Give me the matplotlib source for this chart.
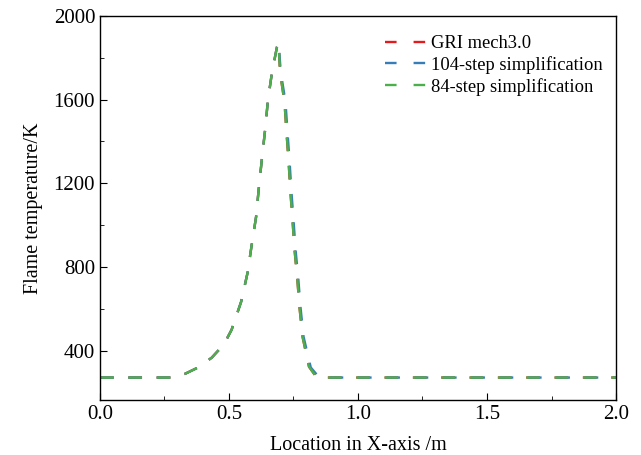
import matplotlib.pyplot as plt
import numpy as np

plt.rcParams['font.family'] = ['Liberation Serif', 'DejaVu Serif']
plt.rcParams['mathtext.fontset'] = 'stix'

# temperature profile
x_gri = [0.0, 0.28, 0.33, 0.38, 0.433, 0.48, 0.51, 0.547, 0.572, 0.588, 0.605, 0.616,
         0.628, 0.640, 0.651, 0.667, 0.686, 0.692, 0.698, 0.715, 0.723, 0.731, 0.738,
         0.746, 0.754, 0.765, 0.773, 0.785, 0.81, 0.84, 0.88, 1.2, 1.6, 2.0]
t_gri = [272, 272, 290, 320, 367, 430, 500, 634, 773, 906, 1040, 1183,
         1322, 1456, 1599, 1733, 1852, 1872, 1728, 1589, 1441, 1303, 1160,
         1026, 883, 739, 610, 467, 324, 272, 272, 272, 272, 272]

x_104 = [0.0, 0.28, 0.33, 0.38, 0.433, 0.48, 0.51, 0.547, 0.572, 0.588, 0.605, 0.616,
         0.628, 0.640, 0.651, 0.667, 0.686, 0.692, 0.701, 0.719, 0.727, 0.735, 0.742,
         0.750, 0.758, 0.769, 0.777, 0.789, 0.817, 0.85, 0.88, 1.2, 1.6, 2.0]
t_104 = [272, 272, 290, 320, 367, 430, 500, 634, 773, 906, 1040, 1183,
         1322, 1456, 1599, 1733, 1852, 1872, 1728, 1589, 1441, 1303, 1160,
         1026, 883, 739, 610, 467, 320, 272, 272, 272, 272, 272]

x_84 = x_gri
t_84 = t_gri

labels = ['GRI mech3.0', '104-step simplification', '84-step simplification']
colors = ['#e41a1c', '#377eb8', '#4daf4a']
dash = (5.8, 6.2)

fig = plt.figure(figsize=(6.41, 4.55), dpi=100)
ax = fig.add_axes([0.156, 0.121, 0.805, 0.844])

for xs, ts, lab, c in zip([x_gri, x_104, x_84], [t_gri, t_104, t_84], labels, colors):
    ax.plot(xs, ts, color=c, lw=1.7, ls=(0, dash), label=lab)

ax.set_xlim(0, 2.0)
ax.set_ylim(165, 2000)
ax.set_xticks(np.arange(0, 2.01, 0.5))
ax.set_xticks(np.arange(0.25, 2.0, 0.5), minor=True)
ax.set_yticks([400, 800, 1200, 1600, 2000])
ax.set_yticks([600, 1000, 1400, 1800], minor=True)
ax.xaxis.set_major_formatter(plt.FormatStrFormatter('%.1f'))
ax.tick_params(which='both', direction='in', labelsize=15)
ax.tick_params(which='major', length=5)
ax.tick_params(which='minor', length=3)
for s in ax.spines.values():
    s.set_linewidth(1.0)

ax.set_xlabel('Location in X-axis /m', fontsize=14.5, labelpad=9)
ax.set_ylabel('Flame temperature/K', fontsize=14.5, labelpad=8)

leg = ax.legend(loc='upper right', bbox_to_anchor=(1.0, 0.983), frameon=False,
                fontsize=13.3, handlelength=2.22, handletextpad=0.3,
                borderaxespad=0.3, labelspacing=0.2)
for ln in leg.get_lines():
    ln.set_linestyle((0, (4.9, 7.2)))

fig.savefig('out.png', dpi=100)
